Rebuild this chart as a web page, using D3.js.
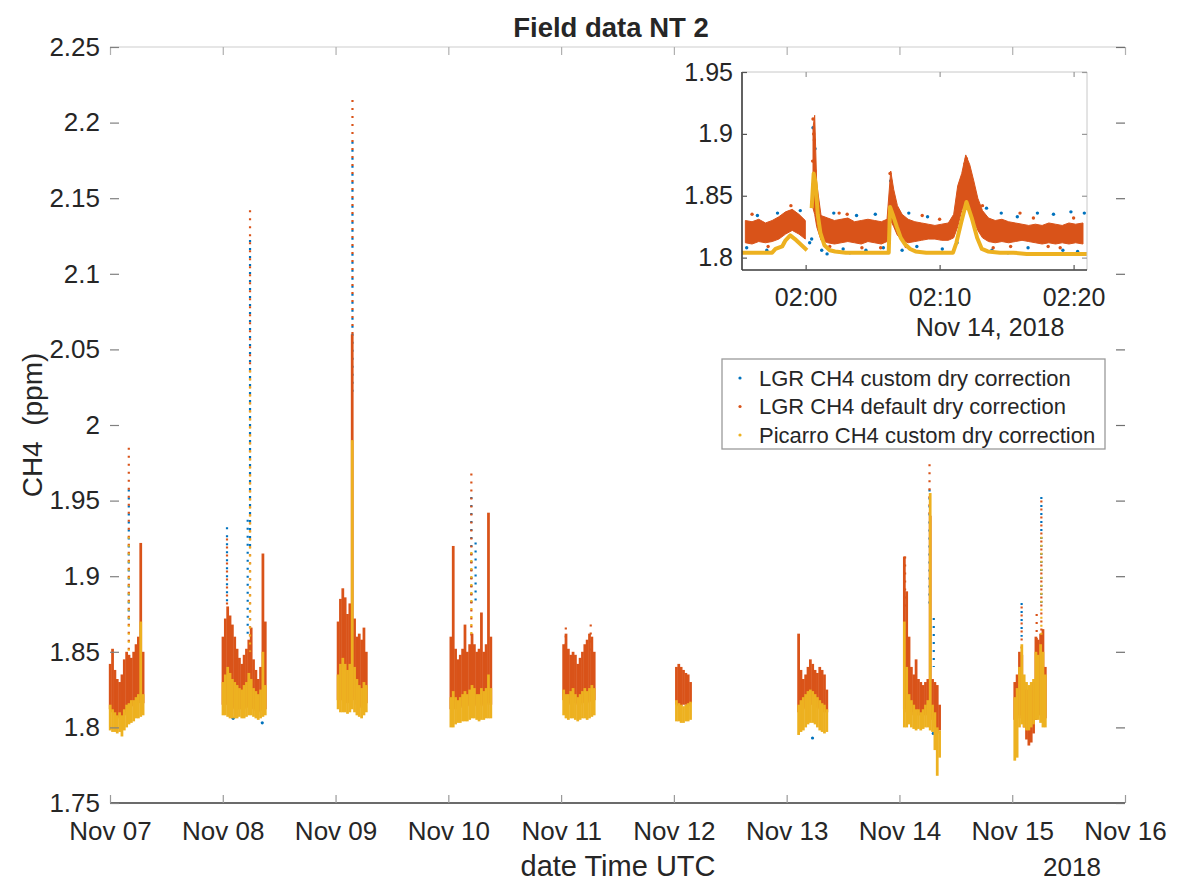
<!DOCTYPE html>
<html>
<head>
<meta charset="utf-8">
<script src="https://cdn.jsdelivr.net/npm/d3@7"></script>
<style>
  body { margin: 0; background: #fff; }
  svg { display: block; }
  text { font-family: "Liberation Sans", Arial, sans-serif; fill: #262626; }
</style>
</head>
<body>
<svg id="chart" width="1177" height="882"></svg>
<script>
// ---- data ----
const seriesNames = [
  'LGR CH4 custom dry correction',
  'LGR CH4 default dry correction',
  'Picarro CH4 custom dry correction'
];
const yTicks = [1.75, 1.8, 1.85, 1.9, 1.95, 2, 2.05, 2.1, 2.15, 2.2, 2.25];
const insetYTicks = [1.8, 1.85, 1.9, 1.95];
const clusterDays = [7, 8, 9, 10, 11, 12, 13, 14, 15];

// per half hour: [hour, picarroLo, picarroHi, lgrLo, lgrHi]
const nov07 = [
  [0.0, 1.798, 1.815, 1.812, 1.842], [0.5, 1.797, 1.812, 1.810, 1.852],
  [1.0, 1.797, 1.810, 1.808, 1.838], [1.5, 1.796, 1.808, 1.806, 1.832],
  [2.0, 1.797, 1.810, 1.807, 1.830], [2.5, 1.794, 1.808, 1.805, 1.835],
  [3.0, 1.798, 1.812, 1.808, 1.845], [3.5, 1.800, 1.815, 1.810, 1.850],
  [4.0, 1.802, 1.816, 1.812, 1.848], [4.5, 1.803, 1.818, 1.814, 1.846],
  [5.0, 1.804, 1.818, 1.814, 1.850], [5.5, 1.806, 1.820, 1.815, 1.855],
  [6.0, 1.806, 1.822, 1.816, 1.860], [6.5, 1.807, 1.870, 1.818, 1.922],
  [7.0, 1.808, 1.822, 1.816, 1.850]
];
const nov08 = [
  [0.0, 1.808, 1.830, 1.815, 1.860], [0.5, 1.808, 1.835, 1.815, 1.872],
  [1.0, 1.807, 1.840, 1.815, 1.880], [1.5, 1.806, 1.836, 1.814, 1.874],
  [2.0, 1.806, 1.832, 1.813, 1.868], [2.5, 1.806, 1.830, 1.812, 1.860],
  [3.0, 1.806, 1.828, 1.812, 1.852], [3.5, 1.807, 1.826, 1.812, 1.846],
  [4.0, 1.806, 1.825, 1.812, 1.842], [4.5, 1.806, 1.828, 1.812, 1.848],
  [5.0, 1.807, 1.830, 1.813, 1.852], [5.5, 1.808, 1.836, 1.814, 1.858],
  [6.0, 1.808, 1.832, 1.813, 1.866], [6.5, 1.807, 1.826, 1.812, 1.845],
  [7.0, 1.806, 1.824, 1.811, 1.838], [7.5, 1.805, 1.822, 1.810, 1.832],
  [8.0, 1.806, 1.825, 1.811, 1.840], [8.5, 1.807, 1.850, 1.812, 1.915],
  [9.0, 1.808, 1.828, 1.812, 1.870]
];
const nov09 = [
  [0.5, 1.812, 1.835, 1.818, 1.870], [1.0, 1.810, 1.842, 1.818, 1.885],
  [1.5, 1.810, 1.846, 1.818, 1.892], [2.0, 1.810, 1.842, 1.818, 1.886],
  [2.5, 1.809, 1.838, 1.816, 1.875], [3.0, 1.810, 1.842, 1.818, 1.882],
  [3.5, 1.812, 1.990, 1.820, 2.060], [4.0, 1.810, 1.840, 1.818, 1.872],
  [4.5, 1.808, 1.832, 1.815, 1.860], [5.0, 1.807, 1.828, 1.814, 1.862],
  [5.5, 1.806, 1.826, 1.813, 1.858], [6.0, 1.808, 1.830, 1.815, 1.866],
  [6.5, 1.810, 1.828, 1.816, 1.850]
];
const nov10 = [
  [0.5, 1.800, 1.820, 1.812, 1.860], [1.0, 1.800, 1.824, 1.812, 1.920],
  [1.5, 1.802, 1.820, 1.812, 1.852], [2.0, 1.803, 1.818, 1.812, 1.845],
  [2.5, 1.803, 1.820, 1.813, 1.848], [3.0, 1.804, 1.822, 1.814, 1.852],
  [3.5, 1.804, 1.824, 1.815, 1.868], [4.0, 1.804, 1.822, 1.814, 1.850],
  [4.5, 1.805, 1.825, 1.815, 1.855], [5.0, 1.806, 1.828, 1.816, 1.862],
  [5.5, 1.806, 1.826, 1.815, 1.855], [6.0, 1.805, 1.822, 1.814, 1.850],
  [6.5, 1.804, 1.822, 1.814, 1.852], [7.0, 1.805, 1.826, 1.815, 1.876],
  [7.5, 1.805, 1.824, 1.814, 1.850], [8.0, 1.806, 1.826, 1.815, 1.855],
  [8.5, 1.806, 1.835, 1.816, 1.942], [9.0, 1.806, 1.826, 1.815, 1.860]
];
const nov11 = [
  [0.5, 1.808, 1.825, 1.818, 1.855], [1.0, 1.806, 1.822, 1.816, 1.862],
  [1.5, 1.805, 1.822, 1.815, 1.852], [2.0, 1.806, 1.824, 1.816, 1.848],
  [2.5, 1.806, 1.826, 1.817, 1.850], [3.0, 1.805, 1.822, 1.816, 1.848],
  [3.5, 1.804, 1.820, 1.815, 1.842], [4.0, 1.805, 1.822, 1.815, 1.846],
  [4.5, 1.806, 1.824, 1.816, 1.850], [5.0, 1.806, 1.826, 1.817, 1.855],
  [5.5, 1.805, 1.824, 1.816, 1.858], [6.0, 1.806, 1.826, 1.817, 1.862],
  [6.5, 1.807, 1.828, 1.818, 1.860], [7.0, 1.808, 1.826, 1.818, 1.850]
];
const nov12 = [
  [0.5, 1.804, 1.818, 1.815, 1.840], [1.0, 1.804, 1.816, 1.814, 1.842],
  [1.5, 1.803, 1.815, 1.814, 1.840], [2.0, 1.803, 1.814, 1.815, 1.838],
  [2.5, 1.804, 1.815, 1.815, 1.836], [3.0, 1.804, 1.816, 1.814, 1.835],
  [3.5, 1.805, 1.817, 1.816, 1.830]
];
const nov13 = [
  [2.5, 1.795, 1.815, 1.810, 1.862], [3.0, 1.797, 1.818, 1.812, 1.838],
  [3.5, 1.798, 1.820, 1.812, 1.832], [4.0, 1.800, 1.822, 1.813, 1.835],
  [4.5, 1.802, 1.824, 1.814, 1.840], [5.0, 1.803, 1.825, 1.815, 1.845],
  [5.5, 1.803, 1.824, 1.815, 1.842], [6.0, 1.802, 1.822, 1.814, 1.838],
  [6.5, 1.800, 1.820, 1.813, 1.836], [7.0, 1.798, 1.818, 1.812, 1.840],
  [7.5, 1.797, 1.816, 1.811, 1.838], [8.0, 1.796, 1.815, 1.810, 1.835],
  [8.5, 1.797, 1.812, 1.810, 1.825]
];
const nov14 = [
  [1.0, 1.800, 1.870, 1.812, 1.913], [1.5, 1.800, 1.840, 1.810, 1.890],
  [2.0, 1.802, 1.822, 1.812, 1.860], [2.5, 1.800, 1.818, 1.810, 1.840],
  [3.0, 1.799, 1.815, 1.808, 1.835], [3.5, 1.798, 1.812, 1.808, 1.845],
  [4.0, 1.799, 1.812, 1.808, 1.832], [4.5, 1.798, 1.810, 1.808, 1.830],
  [5.0, 1.799, 1.812, 1.808, 1.828], [5.5, 1.800, 1.815, 1.808, 1.830],
  [6.0, 1.800, 1.818, 1.809, 1.832], [6.5, 1.798, 1.955, 1.808, 1.940],
  [7.0, 1.797, 1.815, 1.805, 1.832], [7.5, 1.785, 1.810, 1.800, 1.830],
  [8.0, 1.768, 1.800, 1.796, 1.828], [8.5, 1.780, 1.798, 1.798, 1.815]
];
const nov15 = [
  [0.5, 1.778, 1.820, 1.805, 1.830], [1.0, 1.780, 1.826, 1.806, 1.835],
  [1.5, 1.800, 1.840, 1.808, 1.850], [2.0, 1.802, 1.855, 1.806, 1.848],
  [2.5, 1.800, 1.835, 1.800, 1.830], [3.0, 1.798, 1.830, 1.792, 1.825],
  [3.5, 1.798, 1.828, 1.788, 1.822], [4.0, 1.800, 1.830, 1.790, 1.825],
  [4.5, 1.802, 1.832, 1.796, 1.830], [5.0, 1.805, 1.850, 1.805, 1.860],
  [5.5, 1.805, 1.848, 1.808, 1.858], [6.0, 1.803, 1.855, 1.808, 1.862],
  [6.5, 1.800, 1.850, 1.808, 1.865], [7.0, 1.800, 1.835, 1.806, 1.840]
];
const clusters = [nov07, nov08, nov09, nov10, nov11, nov12, nov13, nov14, nov15];

// sparse columns of points: [cluster index, hour, lo, hi]
const customSpikes = [
  [0, 4.0, 1.87, 1.96], [1, 0.9, 1.88, 1.935], [1, 5.3, 1.86, 1.94],
  [1, 5.8, 1.92, 2.125], [2, 3.6, 2.02, 2.19], [3, 4.9, 1.88, 1.955],
  [3, 5.8, 1.88, 1.925], [7, 7.3, 1.84, 1.875], [7, 6.4, 1.88, 1.96],
  [8, 6.2, 1.88, 1.955], [8, 2.0, 1.86, 1.885]
];
const defaultSpikes = [
  [0, 4.0, 1.85, 1.985], [1, 0.9, 1.88, 1.925], [1, 5.8, 1.86, 2.142],
  [2, 3.6, 2.06, 2.215], [3, 4.9, 1.86, 1.968], [4, 1.0, 1.85, 1.866],
  [4, 6.3, 1.85, 1.868], [7, 1.2, 1.88, 1.913], [7, 6.4, 1.94, 1.974],
  [8, 2.0, 1.85, 1.88], [8, 5.2, 1.85, 1.875], [8, 6.2, 1.86, 1.95]
];
const picarroSpikes = [
  [0, 4.0, 1.85, 1.93], [1, 5.8, 1.85, 2.04], [3, 4.9, 1.86, 1.92], [8, 6.2, 1.86, 1.93]
];
const customDots = [[1, 8.4, 1.803], [6, 5.5, 1.793], [7, 7.2, 1.796], [1, 2.2, 1.806]];

// inset, Nov 14: minutes after 01:55
const insetPicarro = [
  [0.25, 1.804], [1, 1.804], [2, 1.804], [2.5, 1.804], [2.75, 1.807], [3.0, 1.808],
  [3.25, 1.809], [3.5, 1.814], [3.85, 1.818], [4.2, 1.815], [4.5, 1.812], [4.8, 1.809],
  [5.1, 1.806], [5.3, null], [5.45, 1.84], [5.6, 1.868], [5.75, 1.86], [5.9, 1.835],
  [6.1, 1.82], [6.4, 1.81], [6.8, 1.806], [7.2, 1.805], [8, 1.804], [9, 1.804],
  [10, 1.804], [11.2, 1.804], [11.3, 1.841], [11.5, 1.835], [11.8, 1.825], [12.1, 1.816],
  [12.4, 1.811], [12.8, 1.807], [13.2, 1.805], [14, 1.804], [15, 1.804], [16.0, 1.804],
  [16.25, 1.812], [16.6, 1.828], [17.0, 1.845], [17.4, 1.832], [17.8, 1.816], [18.15, 1.807],
  [18.6, 1.805], [19.5, 1.804], [20.5, 1.804], [21.5, 1.803], [22.5, 1.803], [23.5, 1.803],
  [24.5, 1.803], [25.5, 1.803], [26, 1.803]
];
// [start, end, lo, hi]
const insetDefault = [
  [0.25, 0.75, 1.812, 1.830], [0.75, 1.25, 1.811, 1.829], [1.25, 1.75, 1.813, 1.831],
  [1.75, 2.25, 1.812, 1.828], [2.25, 2.75, 1.813, 1.830], [2.75, 3.25, 1.815, 1.833],
  [3.25, 3.75, 1.819, 1.837], [3.75, 4.25, 1.822, 1.839], [4.25, 4.75, 1.819, 1.835],
  [4.75, 5.2, 1.815, 1.830], [5.5, 5.6, 1.84, 1.905], [5.6, 5.75, 1.835, 1.915],
  [5.75, 5.9, 1.825, 1.86], [5.9, 6.4, 1.814, 1.834], [6.4, 6.9, 1.812, 1.832],
  [6.9, 7.4, 1.811, 1.830], [7.4, 7.9, 1.812, 1.831], [7.9, 8.4, 1.813, 1.832],
  [8.4, 8.9, 1.812, 1.829], [8.9, 9.4, 1.811, 1.830], [9.4, 9.9, 1.813, 1.831],
  [9.9, 10.4, 1.812, 1.830], [10.4, 10.9, 1.811, 1.829], [10.9, 11.25, 1.813, 1.831],
  [11.25, 11.45, 1.830, 1.870], [11.45, 11.7, 1.825, 1.855], [11.7, 12.0, 1.818, 1.842],
  [12.0, 12.4, 1.814, 1.835], [12.4, 12.9, 1.812, 1.831], [12.9, 13.4, 1.813, 1.829],
  [13.4, 13.9, 1.814, 1.828], [13.9, 14.4, 1.815, 1.827], [14.4, 14.9, 1.815, 1.826],
  [14.9, 15.4, 1.814, 1.827], [15.4, 15.9, 1.814, 1.828], [15.9, 16.2, 1.816, 1.835],
  [16.2, 16.5, 1.825, 1.858], [16.5, 16.8, 1.838, 1.868], [16.8, 17.1, 1.845, 1.883],
  [17.1, 17.4, 1.840, 1.875], [17.4, 17.7, 1.830, 1.862], [17.7, 18.0, 1.822, 1.848],
  [18.0, 18.4, 1.816, 1.838], [18.4, 18.9, 1.813, 1.832], [18.9, 19.4, 1.812, 1.830],
  [19.4, 19.9, 1.813, 1.831], [19.9, 20.4, 1.812, 1.829], [20.4, 20.9, 1.813, 1.828],
  [20.9, 21.4, 1.814, 1.827], [21.4, 21.9, 1.813, 1.826], [21.9, 22.4, 1.812, 1.827],
  [22.4, 22.9, 1.811, 1.826], [22.9, 23.4, 1.812, 1.828], [23.4, 23.9, 1.811, 1.827],
  [23.9, 24.4, 1.812, 1.826], [24.4, 24.9, 1.811, 1.828], [24.9, 25.4, 1.812, 1.827],
  [25.4, 26.0, 1.811, 1.828]
];
const insetDefaultDots = [
  [5.55, 1.912], [5.6, 1.9], [5.65, 1.895], [5.52, 1.878], [5.7, 1.87], [5.58, 1.86],
  [5.62, 1.85], [5.48, 1.845], [11.3, 1.868], [17.0, 1.88], [16.9, 1.876], [1.0, 1.835],
  [7.5, 1.836], [9.2, 1.808], [13.7, 1.834], [19.0, 1.808], [21.0, 1.836], [24.0, 1.808],
  [2.2, 1.809], [3.9, 1.842], [6.8, 1.809], [8.1, 1.835], [10.6, 1.808], [12.5, 1.809],
  [15.0, 1.831], [18.2, 1.842], [20.3, 1.809], [22.0, 1.832], [23.1, 1.809], [25.0, 1.832]
];
const insetCustomDots = [
  [0.6, 1.808], [1.4, 1.834], [2.1, 1.806], [2.9, 1.836], [3.4, 1.812], [4.6, 1.838],
  [6.2, 1.806], [6.6, 1.803], [7.1, 1.836], [7.8, 1.807], [8.3, 1.804], [8.8, 1.834],
  [9.5, 1.806], [10.2, 1.835], [10.8, 1.808], [12.2, 1.806], [12.7, 1.836], [13.3, 1.809],
  [14.1, 1.833], [15.2, 1.807], [16.3, 1.812], [16.9, 1.873], [17.6, 1.852], [18.5, 1.840],
  [18.9, 1.806], [19.6, 1.836], [20.1, 1.804], [20.8, 1.833], [21.6, 1.808], [22.3, 1.836],
  [22.8, 1.803], [23.5, 1.835], [24.2, 1.806], [24.8, 1.837], [25.3, 1.805], [25.8, 1.836],
  [5.55, 1.905], [5.7, 1.888], [11.35, 1.862], [5.45, 1.815], [5.3, 1.812]
];

// ---- drawing ----
const colors = ['#0072BD', '#D95319', '#EDB120'];
const svg = d3.select('#chart');

const dayStart = d => Date.UTC(2018, 10, d);
const at = (ci, h) => new Date(dayStart(clusterDays[ci]) + h * 3600e3);
const insetAt = m => new Date(Date.UTC(2018, 10, 14, 1, 55) + m * 60e3);

const x = d3.scaleUtc()
  .domain([new Date(dayStart(7)), new Date(dayStart(16))])
  .range([110, 1125]);
const y = d3.scaleLinear().domain([1.75, 2.25]).range([803, 47]);

const plot = svg.append('g');

const bandRect = (sel, ci, h, lo, hi, color) => {
  const x0 = x(at(ci, h - 0.25));
  const x1 = x(at(ci, h + 0.25));
  sel.append('rect')
    .attr('x', x0)
    .attr('width', x1 - x0 + 0.4)
    .attr('y', y(hi))
    .attr('height', Math.max(1.5, y(lo) - y(hi)))
    .attr('fill', color);
};

const drawSpikes = (list, color, offset) => {
  plot.append('g')
    .selectAll('line')
    .data(list)
    .join('line')
    .attr('x1', d => x(at(d[0], d[1])))
    .attr('x2', d => x(at(d[0], d[1])))
    .attr('y1', d => y(d[3]))
    .attr('y2', d => y(d[2]))
    .attr('stroke', color)
    .attr('stroke-width', 2.2)
    .attr('stroke-dasharray', '2,6')
    .attr('stroke-dashoffset', offset);
};

// LGR custom (drawn first)
drawSpikes(customSpikes, colors[0], 4);
plot.append('g')
  .selectAll('circle')
  .data(customDots)
  .join('circle')
  .attr('cx', d => x(at(d[0], d[1])))
  .attr('cy', d => y(d[2]))
  .attr('r', 1.6)
  .attr('fill', colors[0]);

// LGR default
const lgrG = plot.append('g');
clusters.forEach((rows, ci) => {
  rows.forEach(r => bandRect(lgrG, ci, r[0], r[3], r[4], colors[1]));
});
drawSpikes(defaultSpikes, colors[1], 0);

// Picarro (drawn last, on top)
const picG = plot.append('g');
clusters.forEach((rows, ci) => {
  rows.forEach(r => bandRect(picG, ci, r[0], r[1], r[2], colors[2]));
});
drawSpikes(picarroSpikes, colors[2], 2);

// ---- main axes ----
const axisStyle = (g, color, size) => {
  g.select('.domain').remove();
  g.selectAll('.tick line').attr('stroke', color).attr('stroke-width', 1.2);
  g.selectAll('.tick text').style('font-size', size || '25px').attr('fill', '#262626');
};

svg.append('line').attr('x1', 110).attr('x2', 1125).attr('y1', 47).attr('y2', 47)
  .attr('stroke', '#dedede').attr('stroke-width', 1.5);
svg.append('line').attr('x1', 110).attr('x2', 1125).attr('y1', 803).attr('y2', 803)
  .attr('stroke', '#3a3a3a').attr('stroke-width', 1.6);

svg.append('g').attr('transform', 'translate(0,803)')
  .call(d3.axisBottom(x).ticks(d3.utcDay.every(1)).tickFormat(d3.utcFormat('%b %d'))
    .tickSize(-8).tickPadding(19))
  .call(g => axisStyle(g, '#9a9a9a', '26px'));
svg.append('g').attr('transform', 'translate(0,47)')
  .call(d3.axisTop(x).ticks(d3.utcDay.every(1)).tickFormat('').tickSize(-8))
  .call(g => axisStyle(g, '#b0b0b0'));
svg.append('g').attr('transform', 'translate(110,0)')
  .call(d3.axisLeft(y).tickValues(yTicks).tickFormat(d3.format('~g')).tickSize(-9).tickPadding(10))
  .call(g => axisStyle(g, '#808080', '26px'));
svg.append('g').attr('transform', 'translate(1125,0)')
  .call(d3.axisRight(y).tickValues(yTicks).tickFormat('').tickSize(-9))
  .call(g => axisStyle(g, '#707070'));

svg.append('text')
  .attr('x', 611).attr('y', 37)
  .attr('text-anchor', 'middle')
  .style('font-size', '27.5px').style('font-weight', 'bold')
  .text('Field data NT 2');

svg.append('text')
  .attr('transform', 'translate(42,425) rotate(-90)')
  .attr('text-anchor', 'middle')
  .style('font-size', '28px').style('white-space', 'pre')
  .text('CH4  (ppm)');

svg.append('text')
  .attr('x', 618).attr('y', 876)
  .attr('text-anchor', 'middle')
  .style('font-size', '29px')
  .text('date Time UTC');

svg.append('text')
  .attr('x', 1072).attr('y', 876)
  .attr('text-anchor', 'middle')
  .style('font-size', '26px')
  .text('2018');

// ---- inset ----
const xi = d3.scaleUtc().domain([insetAt(0.25), insetAt(26)]).range([742, 1087]);
const yi = d3.scaleLinear().domain([1.79, 1.95]).range([270, 72]);

svg.append('defs').append('clipPath').attr('id', 'insetClip')
  .append('rect').attr('x', 742).attr('y', 72).attr('width', 345).attr('height', 198);

svg.append('rect').attr('x', 742).attr('y', 72).attr('width', 345).attr('height', 198)
  .attr('fill', '#fff');

const inset = svg.append('g').attr('clip-path', 'url(#insetClip)');

inset.append('g')
  .selectAll('circle')
  .data(insetCustomDots)
  .join('circle')
  .attr('cx', d => xi(insetAt(d[0])))
  .attr('cy', d => yi(d[1]))
  .attr('r', 1.7)
  .attr('fill', colors[0]);

// split the LGR band where the record has a gap
const segments = [];
insetDefault.forEach((r, i) => {
  if (i === 0 || r[0] > insetDefault[i - 1][1] + 0.01) segments.push([]);
  segments[segments.length - 1].push(r);
});
const bandArea = d3.area()
  .x(d => xi(insetAt((d[0] + d[1]) / 2)))
  .y0(d => yi(d[2]))
  .y1(d => yi(d[3]));
inset.append('g')
  .selectAll('path')
  .data(segments)
  .join('path')
  .attr('d', seg => bandArea(seg.length > 1 ? seg : [seg[0], seg[0]]))
  .attr('fill', colors[1])
  .attr('stroke', colors[1])
  .attr('stroke-width', 1)
  .attr('stroke-linejoin', 'round');

inset.append('g')
  .selectAll('circle')
  .data(insetDefaultDots)
  .join('circle')
  .attr('cx', d => xi(insetAt(d[0])))
  .attr('cy', d => yi(d[1]))
  .attr('r', 1.7)
  .attr('fill', colors[1]);

inset.append('path')
  .datum(insetPicarro)
  .attr('fill', 'none')
  .attr('stroke', colors[2])
  .attr('stroke-width', 4)
  .attr('stroke-linejoin', 'round')
  .attr('d', d3.line()
    .defined(d => d[1] !== null)
    .x(d => xi(insetAt(d[0])))
    .y(d => yi(d[1])));

svg.append('line').attr('x1', 742).attr('x2', 1087).attr('y1', 72).attr('y2', 72)
  .attr('stroke', '#c8c8c8');
svg.append('line').attr('x1', 1087).attr('x2', 1087).attr('y1', 72).attr('y2', 270)
  .attr('stroke', '#c8c8c8');
svg.append('line').attr('x1', 742).attr('x2', 742).attr('y1', 72).attr('y2', 270)
  .attr('stroke', '#3a3a3a').attr('stroke-width', 1.6);
svg.append('line').attr('x1', 742).attr('x2', 1087).attr('y1', 270).attr('y2', 270)
  .attr('stroke', '#3a3a3a').attr('stroke-width', 1.6);

svg.append('g').attr('transform', 'translate(742,0)')
  .call(d3.axisLeft(yi).tickValues(insetYTicks).tickFormat(d3.format('~g')).tickSize(-5).tickPadding(9))
  .call(g => axisStyle(g, '#555'));
svg.append('g').attr('transform', 'translate(0,270)')
  .call(d3.axisBottom(xi).ticks(d3.utcMinute.every(10)).tickFormat(d3.utcFormat('%H:%M'))
    .tickSize(-5).tickPadding(18))
  .call(g => axisStyle(g, '#555'));
svg.append('g').attr('transform', 'translate(0,72)')
  .call(d3.axisTop(xi).ticks(d3.utcMinute.every(10)).tickFormat('').tickSize(-5))
  .call(g => axisStyle(g, '#999'));
svg.append('g').attr('transform', 'translate(1087,0)')
  .call(d3.axisRight(yi).tickValues(insetYTicks).tickFormat('').tickSize(-5))
  .call(g => axisStyle(g, '#999'));

svg.append('text')
  .attr('x', 990).attr('y', 336)
  .attr('text-anchor', 'middle')
  .style('font-size', '25px')
  .text('Nov 14, 2018');

// ---- legend ----
const legend = svg.append('g');
legend.append('rect')
  .attr('x', 722).attr('y', 359).attr('width', 383).attr('height', 90)
  .attr('fill', '#fff').attr('stroke', '#9a9a9a').attr('stroke-width', 1.3);
const items = legend.selectAll('g.item')
  .data(seriesNames)
  .join('g')
  .attr('class', 'item')
  .attr('transform', (d, i) => `translate(740,${378 + i * 28.5})`);
items.append('circle').attr('r', 1.6).attr('fill', (d, i) => colors[i]);
items.append('text')
  .attr('x', 19).attr('dy', '0.35em')
  .style('font-size', '22px')
  .text(d => d);
</script>
</body>
</html>
